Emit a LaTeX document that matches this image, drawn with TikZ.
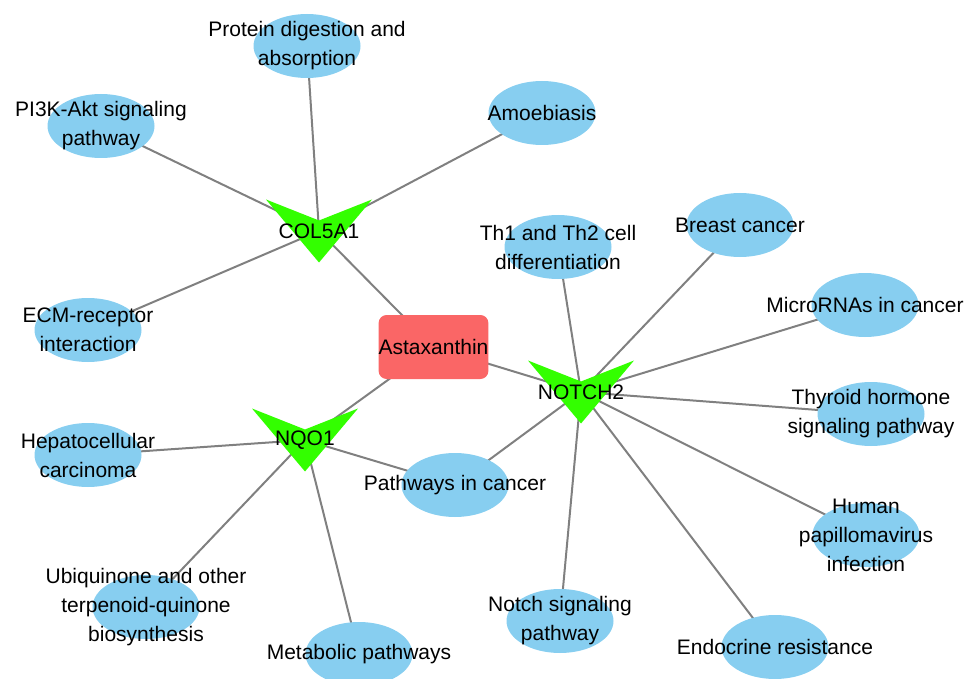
\documentclass[tikz,border=0pt]{standalone}
\usepackage{fontspec}
\setmainfont{Liberation Sans}
\usetikzlibrary{shapes.geometric,backgrounds,calc}

\definecolor{pathblue}{RGB}{135,206,240}
\definecolor{genegreen}{RGB}{51,255,0}
\definecolor{drugred}{RGB}{250,102,102}
\definecolor{edgegray}{RGB}{128,128,128}

\tikzstyle{pathway} = [ellipse, fill=pathblue, minimum width=107pt, minimum height=64pt, inner sep=0pt]
\tikzstyle{drug} = [rectangle, rounded corners=8pt, fill=drugred, minimum width=107pt, minimum height=64pt, inner sep=0pt]
\tikzstyle{gene} = [rectangle, draw=none, minimum width=106pt, minimum height=63pt, inner sep=0pt,
  path picture={\fill[genegreen] (path picture bounding box.north west)
    -- ($(path picture bounding box.north)!0.333!(path picture bounding box.south)$)
    -- (path picture bounding box.north east) -- (path picture bounding box.south) -- cycle;}]
\tikzstyle{link} = [draw=edgegray, line width=2pt]

\begin{document}
\begin{tikzpicture}[x=1pt, y=-1pt, font=\fontsize{21}{29}\selectfont, every label/.style={align=center}]
	\useasboundingbox (0,0) rectangle (966,679);

	% drug and targets
	\node (asta)  [drug] at (433.5,347) {Astaxanthin};
	\node (col)   [gene] at (319,231) {COL5A1};
	\node (notch) [gene] at (581,392) {NOTCH2};
	\node (nqo)   [gene] at (305,440) {NQO1};

	% pathways
	\node (protein)  [pathway, label={center:Protein digestion and\\absorption}] at (307,46) {};
	\node (pik)      [pathway, label={center:PI3K-Akt signaling\\pathway}] at (101,126) {};
	\node (amoeba)   [pathway, label={center:Amoebiasis}] at (542,113) {};
	\node (ecm)      [pathway, label={center:ECM-receptor\\interaction}] at (88,330) {};
	\node (hcc)      [pathway, label={center:Hepatocellular\\carcinoma}] at (88,455) {};
	\node (ubi)      [pathway, label={center:Ubiquinone and other\\terpenoid-quinone\\biosynthesis}] at (146,607) {};
	\node (metab)    [pathway, label={center:Metabolic pathways}] at (359,654) {};
	\node (cancer)   [pathway, label={center:Pathways in cancer}] at (455,485) {};
	\node (notchsig) [pathway, label={center:Notch signaling\\pathway}] at (560,621) {};
	\node (endo)     [pathway, label={center:Endocrine resistance}] at (775,647) {};
	\node (hpv)      [pathway, label={center:Human\\papillomavirus\\infection}] at (866,535) {};
	\node (thyroid)  [pathway, label={center:Thyroid hormone\\signaling pathway}] at (871,414) {};
	\node (mirna)    [pathway, label={center:MicroRNAs in cancer}] at (865,305) {};
	\node (breast)   [pathway, label={center:Breast cancer}] at (740,225) {};
	\node (th)       [pathway, label={center:Th1 and Th2 cell\\differentiation}] at (558,247) {};

	\begin{pgfonlayer}{background}
	\draw[link] (asta.center) -- (col.center);
	\draw[link] (asta.center) -- (notch.center);
	\draw[link] (asta.center) -- (nqo.center);
	\foreach \p in {protein,pik,amoeba,ecm}
		\draw[link] (col.center) -- (\p.center);
	\foreach \p in {th,breast,mirna,thyroid,hpv,endo,notchsig,cancer}
		\draw[link] (notch.center) -- (\p.center);
	\foreach \p in {hcc,ubi,metab,cancer}
		\draw[link] (nqo.center) -- (\p.center);
	\end{pgfonlayer}
\end{tikzpicture}
\end{document}
